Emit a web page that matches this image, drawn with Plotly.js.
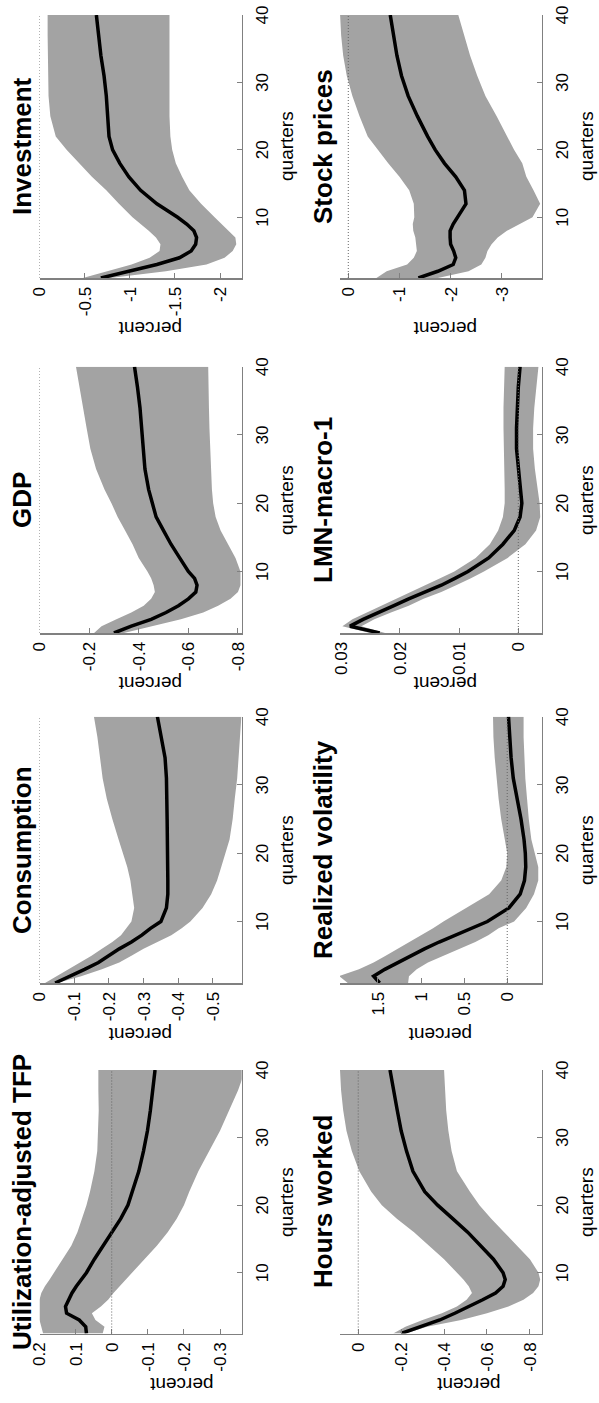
<!DOCTYPE html>
<html><head><meta charset="utf-8">
<script src="https://cdn.plot.ly/plotly-3.0.1.min.js"></script>
<style>
html,body{margin:0;padding:0;width:599px;height:1403px;overflow:hidden;background:#fff}
#wrap{position:absolute;left:0;top:0;width:1403px;height:599px;transform-origin:0 0;transform:translate(0px,1403px) rotate(-90deg);}
#chart{width:1403px;height:599px}
</style></head>
<body><div id="wrap"><div id="chart"></div></div>
<script>
// quarters after the shock
const quarters = [1,2,3,4,5,6,7,8,9,10,12,14,16,18,20,22,25,28,31,34,37,40];
const xTicks = [10,20,30,40];

const titles = ["Utilization-adjusted TFP","Consumption","GDP","Investment",
                "Hours worked","Realized volatility","LMN-macro-1","Stock prices"];

const tfpMed = [0.07,0.072,0.09,0.125,0.128,0.12,0.11,0.098,0.085,0.07,0.048,0.024,-0.002,-0.025,-0.045,-0.058,-0.075,-0.088,-0.099,-0.107,-0.114,-0.12];
const tfpHi  = [0.19,0.195,0.2,0.2,0.2,0.2,0.195,0.185,0.172,0.16,0.135,0.112,0.095,0.082,0.07,0.06,0.048,0.04,0.037,0.036,0.037,0.037];
const tfpLo  = [0.025,0.02,0.045,0.055,0.03,0.01,-0.005,-0.022,-0.04,-0.056,-0.09,-0.125,-0.155,-0.18,-0.2,-0.215,-0.24,-0.27,-0.3,-0.325,-0.35,-0.37];
const tfpTicks = [-0.3,-0.2,-0.1,0,0.1,0.2];

const conMed = [-0.045,-0.09,-0.13,-0.17,-0.2,-0.23,-0.265,-0.295,-0.32,-0.35,-0.366,-0.37,-0.37,-0.37,-0.37,-0.369,-0.368,-0.367,-0.366,-0.362,-0.352,-0.34];
const conHi  = [-0.016,-0.05,-0.085,-0.12,-0.15,-0.18,-0.21,-0.235,-0.25,-0.265,-0.273,-0.268,-0.262,-0.253,-0.24,-0.228,-0.21,-0.194,-0.182,-0.175,-0.167,-0.157];
const conLo  = [-0.05,-0.12,-0.18,-0.23,-0.265,-0.3,-0.34,-0.38,-0.41,-0.435,-0.47,-0.495,-0.512,-0.524,-0.537,-0.548,-0.557,-0.563,-0.57,-0.574,-0.578,-0.582];
const conTicks = [-0.5,-0.4,-0.3,-0.2,-0.1,0];

const gdpMed = [-0.3,-0.37,-0.45,-0.51,-0.56,-0.6,-0.63,-0.635,-0.625,-0.6,-0.565,-0.53,-0.5,-0.47,-0.455,-0.44,-0.425,-0.418,-0.413,-0.405,-0.395,-0.383];
const gdpHi  = [-0.22,-0.25,-0.31,-0.37,-0.42,-0.45,-0.465,-0.46,-0.45,-0.435,-0.4,-0.375,-0.345,-0.315,-0.29,-0.262,-0.228,-0.205,-0.19,-0.175,-0.16,-0.147];
const gdpLo  = [-0.34,-0.46,-0.57,-0.66,-0.72,-0.77,-0.8,-0.81,-0.81,-0.81,-0.79,-0.76,-0.73,-0.71,-0.7,-0.695,-0.69,-0.688,-0.685,-0.683,-0.68,-0.68];
const gdpTicks = [-0.8,-0.6,-0.4,-0.2,0];

const invMed = [-0.68,-1.0,-1.3,-1.55,-1.68,-1.73,-1.74,-1.71,-1.63,-1.53,-1.3,-1.12,-0.99,-0.89,-0.81,-0.77,-0.755,-0.74,-0.715,-0.68,-0.655,-0.63];
const invHi  = [-0.48,-0.75,-1.02,-1.22,-1.33,-1.34,-1.29,-1.21,-1.12,-1.03,-0.88,-0.74,-0.58,-0.44,-0.3,-0.18,-0.12,-0.1,-0.095,-0.09,-0.09,-0.09];
const invLo  = [-0.78,-1.4,-1.85,-2.05,-2.14,-2.18,-2.17,-2.1,-2.02,-1.94,-1.79,-1.66,-1.58,-1.51,-1.47,-1.45,-1.44,-1.44,-1.44,-1.44,-1.44,-1.44];
const invTicks = [-2,-1.5,-1,-0.5,0];

const hrsMed = [-0.2,-0.29,-0.38,-0.45,-0.52,-0.58,-0.64,-0.675,-0.685,-0.675,-0.63,-0.57,-0.51,-0.44,-0.37,-0.31,-0.255,-0.225,-0.2,-0.182,-0.165,-0.148];
const hrsHi  = [-0.163,-0.22,-0.3,-0.39,-0.46,-0.505,-0.53,-0.515,-0.49,-0.46,-0.4,-0.33,-0.26,-0.18,-0.11,-0.06,-0.005,0.03,0.055,0.07,0.08,0.085];
const hrsLo  = [-0.22,-0.32,-0.48,-0.6,-0.7,-0.77,-0.815,-0.84,-0.848,-0.84,-0.8,-0.74,-0.68,-0.62,-0.565,-0.52,-0.46,-0.435,-0.42,-0.41,-0.405,-0.4];
const hrsTicks = [-0.8,-0.6,-0.4,-0.2,0];

const rvMed = [1.48,1.55,1.42,1.27,1.11,0.96,0.79,0.6,0.4,0.23,-0.02,-0.15,-0.2,-0.215,-0.21,-0.195,-0.16,-0.11,-0.07,-0.045,-0.035,-0.015];
const rvHi  = [1.85,1.95,1.72,1.55,1.41,1.27,1.13,0.99,0.86,0.74,0.48,0.21,0.07,0.01,0.0,0.03,0.07,0.1,0.125,0.145,0.16,0.165];
const rvLo  = [1.15,1.14,1.05,0.92,0.72,0.55,0.37,0.22,0.1,-0.08,-0.22,-0.31,-0.36,-0.36,-0.32,-0.28,-0.25,-0.23,-0.21,-0.2,-0.19,-0.19];
const rvTicks = [0,0.5,1,1.5];

const lmnMed = [0.0234,0.0284,0.0262,0.0235,0.021,0.0185,0.0158,0.013,0.0107,0.0085,0.005,0.0026,0.0007,-0.0003,-0.0006,-0.0004,0.0,0.0003,0.0003,0.0002,0.0,-0.0003];
const lmnHi  = [0.025,0.0297,0.028,0.0255,0.023,0.0205,0.018,0.0155,0.0132,0.0108,0.0072,0.0048,0.0034,0.0026,0.0023,0.0023,0.0024,0.0025,0.0025,0.0025,0.0024,0.0023];
const lmnLo  = [0.0225,0.0265,0.0243,0.0215,0.0185,0.016,0.013,0.0105,0.008,0.0058,0.0018,-0.0012,-0.003,-0.0037,-0.0036,-0.0033,-0.0028,-0.0025,-0.0025,-0.0027,-0.003,-0.0034];
const lmnTicks = [0,0.01,0.02,0.03];

const stkMed = [-1.37,-1.75,-2.05,-2.1,-2.06,-2.0,-1.99,-1.99,-2.05,-2.14,-2.3,-2.27,-2.1,-1.88,-1.7,-1.55,-1.35,-1.17,-1.04,-0.95,-0.88,-0.82];
const stkHi  = [-0.55,-0.75,-1.15,-1.28,-1.34,-1.33,-1.31,-1.27,-1.26,-1.29,-1.28,-1.19,-1.0,-0.78,-0.58,-0.38,-0.22,-0.08,0.03,0.1,0.14,0.16];
const stkLo  = [-1.75,-2.35,-2.6,-2.68,-2.72,-2.8,-2.92,-3.1,-3.35,-3.6,-3.75,-3.62,-3.48,-3.4,-3.24,-3.1,-2.9,-2.68,-2.52,-2.38,-2.26,-2.15];
const stkTicks = [-3,-2,-1,0];

// ---------- figure construction ----------
const W = 1403, H = 599;
const COLS = [[69.5,333],[420,686.3],[770,1036.3],[1125,1388]];
const ROWS = [[39.5,241.7],[340,541.7]];
const FONT = "Liberation Sans, Arial, Helvetica, sans-serif";
// vertical centre (px, in the unrotated frame) of each "percent" label
const PCT_POS = [182, 140, 150, 150, 469, 440, 445, 445];

const panels = [
  {med:tfpMed, lo:tfpLo, hi:tfpHi, ticks:tfpTicks, range:[-0.36,0.2]},
  {med:conMed, lo:conLo, hi:conHi, ticks:conTicks, range:[-0.583,0]},
  {med:gdpMed, lo:gdpLo, hi:gdpHi, ticks:gdpTicks, range:[-0.815,0]},
  {med:invMed, lo:invLo, hi:invHi, ticks:invTicks, range:[-2.24,0]},
  {med:hrsMed, lo:hrsLo, hi:hrsHi, ticks:hrsTicks, range:[-0.855,0.085]},
  {med:rvMed, lo:rvLo, hi:rvHi, ticks:rvTicks, range:[-0.40,1.94]},
  {med:lmnMed, lo:lmnLo, hi:lmnHi, ticks:lmnTicks, range:[-0.00395,0.0301]},
  {med:stkMed, lo:stkLo, hi:stkHi, ticks:stkTicks, range:[-3.78,0.162]}
];

const data = [];
const layout = {
  width: W, height: H,
  margin: {l:0, r:0, t:0, b:0},
  paper_bgcolor: "#fff", plot_bgcolor: "#fff",
  showlegend: false,
  font: {family: FONT, color: "#000"},
  shapes: [], annotations: []
};

panels.forEach((p, i) => {
  const r = Math.floor(i / 4), c = i % 4;
  const s = i === 0 ? "" : String(i + 1);
  const xa = "x" + s, ya = "y" + s;
  const u0 = COLS[c][0], u1 = COLS[c][1], v0 = ROWS[r][0], v1 = ROWS[r][1];
  layout["xaxis" + s] = {
    domain: [u0 / W, u1 / W], anchor: ya, range: [1, 40],
    tickvals: xTicks, ticktext: xTicks.map(String),
    ticks: "inside", ticklen: 5, tickwidth: 1, tickcolor: "#808080",
    showline: true, linecolor: "#808080", linewidth: 1.5,
    showgrid: false, zeroline: false, fixedrange: true,
    tickfont: {family: FONT, size: 17, color: "#000"}, ticklabelstandoff: 4
  };
  layout["yaxis" + s] = {
    domain: [1 - v1 / H, 1 - v0 / H], anchor: xa, range: p.range,
    tickvals: p.ticks, ticktext: p.ticks.map(String),
    ticks: "inside", ticklen: 5, tickwidth: 1, tickcolor: "#808080",
    showline: true, linecolor: "#808080", linewidth: 1.5,
    showgrid: false, zeroline: false, fixedrange: true,
    tickfont: {family: FONT, size: 17, color: "#000"}, ticklabelstandoff: 4
  };
  data.push({
    x: quarters.concat(quarters.slice().reverse()),
    y: p.hi.concat(p.lo.slice().reverse()),
    xaxis: xa, yaxis: ya, type: "scatter", mode: "lines",
    fill: "toself", fillcolor: "#a3a3a3", line: {width: 0, color: "#a3a3a3"},
    hoverinfo: "skip"
  });
  data.push({
    x: quarters, y: p.med, xaxis: xa, yaxis: ya, type: "scatter", mode: "lines",
    line: {color: "#000", width: 3.5}, hoverinfo: "skip"
  });
  layout.shapes.push({
    type: "line", xref: xa, yref: ya, x0: 1, x1: 40, y0: 0, y1: 0,
    line: {color: "#666", width: 1, dash: "1px,2px"}, layer: "above"
  });
  const uc = (u0 + u1) / 2;
  layout.annotations.push({
    text: "<b>" + titles[i] + "</b>", xref: "paper", yref: "paper",
    x: uc / W, y: 1 - v0 / H, xanchor: "center", yanchor: "bottom",
    showarrow: false, font: {family: FONT, size: 26, color: "#000"}
  });
  layout.annotations.push({
    text: "quarters", xref: "paper", yref: "paper",
    x: uc / W, y: 1 - (v1 + 45) / H, xanchor: "center", yanchor: "middle",
    showarrow: false, font: {family: FONT, size: 19, color: "#000"}
  });
  layout.annotations.push({
    text: "percent", xref: "paper", yref: "paper", textangle: -90,
    x: (u0 - 51) / W, y: 1 - PCT_POS[i] / H, xanchor: "center", yanchor: "middle",
    showarrow: false, font: {family: FONT, size: 19, color: "#000"}
  });
});

Plotly.newPlot("chart", data, layout, {staticPlot: true, displayModeBar: false});
</script>
</body></html>
